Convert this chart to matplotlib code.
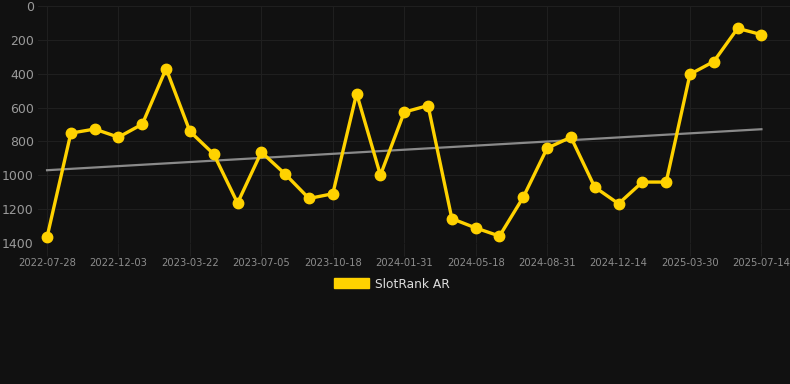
import numpy as np
import matplotlib
matplotlib.use('Agg')
import matplotlib.pyplot as plt
from matplotlib.patches import Patch

# tick labels shown every third point
tick_labels = ['2022-07-28', '2022-12-03', '2023-03-22', '2023-07-05', '2023-10-18',
               '2024-01-31', '2024-05-18', '2024-08-31', '2024-12-14', '2025-03-30',
               '2025-07-14']
# SlotRank AR values (lower is better, axis is reversed)
rank = [1365, 751, 727, 775, 698, 370, 741, 875, 1164, 863,
        993, 1137, 1109, 517, 999, 627, 588, 1256, 1311, 1359,
        1129, 840, 775, 1070, 1168, 1040, 1040, 403, 328, 132, 169]
series_name = 'SlotRank AR'

BG = '#111111'
GRID = '#1f1f1f'
GOLD = '#FFD200'

fig = plt.figure(figsize=(7.9, 3.84), dpi=100, facecolor=BG)
ax = fig.add_axes([38/790, 1 - 243/384, 752/790, 237/384])
ax.set_facecolor(BG)

x = np.arange(len(rank))
# linear trend through the series
k, b = np.polyfit(x, rank, 1)
ax.plot(x, k * x + b, color='#8a8a8a', lw=1.6, zorder=2)
ax.plot(x, rank, color=GOLD, lw=2.4, marker='o', markersize=7.5, zorder=3)

ax.set_ylim(1400, 0)
ax.set_yticks(range(0, 1401, 200))
ax.set_xlim(-0.38, 31.2)
tick_pos = x[::3]
ax.set_xticks(tick_pos)
ax.set_xticklabels(tick_labels)

ax.grid(True, color=GRID, lw=0.8)
for s in ax.spines.values():
    s.set_visible(False)
ax.tick_params(axis='x', colors=GRID, length=9, width=0.8, labelsize=7.2,
               labelcolor='#8c8c8c', pad=2)
ax.tick_params(axis='y', length=0, labelsize=9, labelcolor='#9a9a9a', pad=3)

fig.legend(handles=[Patch(color=GOLD, label=series_name)], loc='center',
           bbox_to_anchor=(392/790, 1 - 284/384), frameon=False,
           handlelength=2.9, handleheight=0.9, fontsize=8.8, labelcolor='#dddddd',
           handletextpad=0.5)

fig.savefig('out.png', dpi=100, facecolor=BG)
